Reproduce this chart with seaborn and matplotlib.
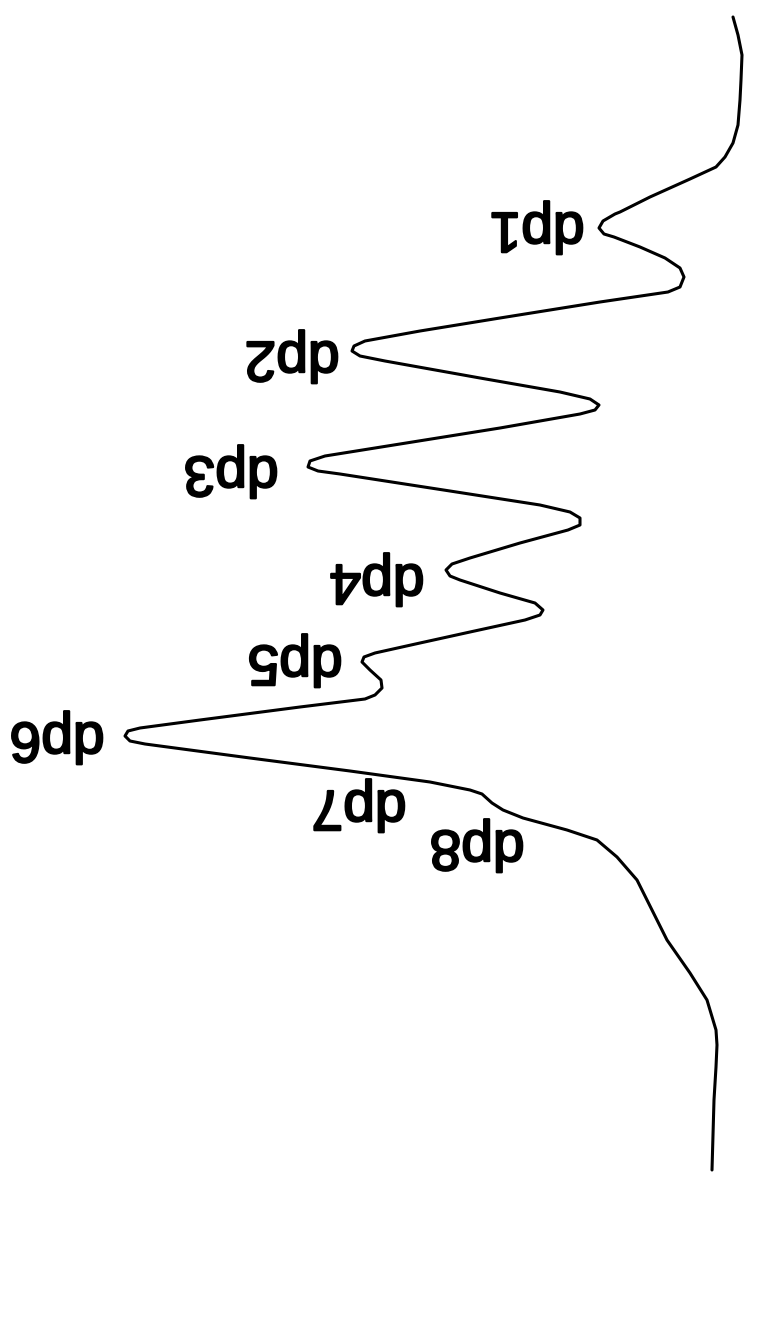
import matplotlib
matplotlib.use("Agg")
import matplotlib.pyplot as plt
import matplotlib.patheffects as pe
import seaborn as sns
import pandas as pd

# Elution trace: retention position (runs downward) and detector response (peaks point left)
retention = [
    17, 35, 55, 80, 100, 125, 143, 157, 167, 179, 197, 212,
    214, 221, 228, 234, 237, 247, 258, 268, 277, 287, 292,
    302, 318, 331, 341, 346, 351, 356, 361, 378, 392, 399, 405, 410, 414,
    428, 444, 456, 461, 467, 471, 474, 491, 505, 512, 518, 525, 530,
    543, 558, 564, 570, 576, 580, 593, 603, 610, 615, 620,
    632, 643, 653, 657, 662, 670, 680, 688, 695, 699,
    707, 720, 728, 731, 736, 741, 744, 758, 771, 782,
    790, 794, 803, 810, 818, 830, 840, 857, 880, 900, 940, 973,
    1000, 1030, 1045, 1067, 1100, 1170,
]
response = [
    733, 738, 742, 741, 740, 738, 733, 725, 716, 690, 650, 620,
    615, 603, 599, 604, 614, 640, 665, 680, 684, 680, 668,
    600, 500, 420, 365, 354, 352, 360, 385, 480, 560, 590, 599, 595, 580,
    500, 400, 325, 310, 308, 318, 340, 450, 540, 570, 580, 580, 568,
    520, 470, 452, 446, 450, 460, 500, 535, 543, 540, 525,
    470, 420, 375, 364, 362, 370, 381, 382, 375, 365,
    300, 200, 140, 128, 125, 130, 145, 250, 350, 430,
    470, 482, 492, 503, 523, 567, 597, 617, 637, 647, 667, 690,
    707, 716, 717, 716, 714, 712,
]

# Oligomer labels (degree of polymerisation) and where they sit
peak_labels = ["dp1", "dp2", "dp3", "dp4", "dp5", "dp6", "dp7", "dp8"]
label_response = [537, 292, 231, 377, 295, 57, 359, 477]
label_retention = [228, 357, 472, 580, 661, 738, 806, 846]

trace = pd.DataFrame({"retention": retention, "response": response})

sns.set_theme(style="white")
plt.rcParams["font.family"] = ["Liberation Sans", "DejaVu Sans"]

fig = plt.figure(figsize=(7.73, 13.17), dpi=100)
ax = fig.add_axes([0, 0, 1, 1])

sns.lineplot(
    data=trace, x="response", y="retention", sort=False, orient="y",
    estimator=None, color="black", linewidth=2.2, ax=ax,
)
ax.lines[0].set_solid_joinstyle("round")
ax.lines[0].set_solid_capstyle("round")

for lab, x, y in zip(peak_labels, label_response, label_retention):
    ax.text(x, y, lab, rotation=180, rotation_mode="anchor",
            ha="center", va="center", fontsize=41, fontweight="normal",
            color="black",
            path_effects=[pe.withStroke(linewidth=1.6, foreground="black")])

ax.set_xlim(0, 773)
ax.set_ylim(1317, 0)
ax.set_axis_off()

fig.savefig("out.png", dpi=100, facecolor="white")
